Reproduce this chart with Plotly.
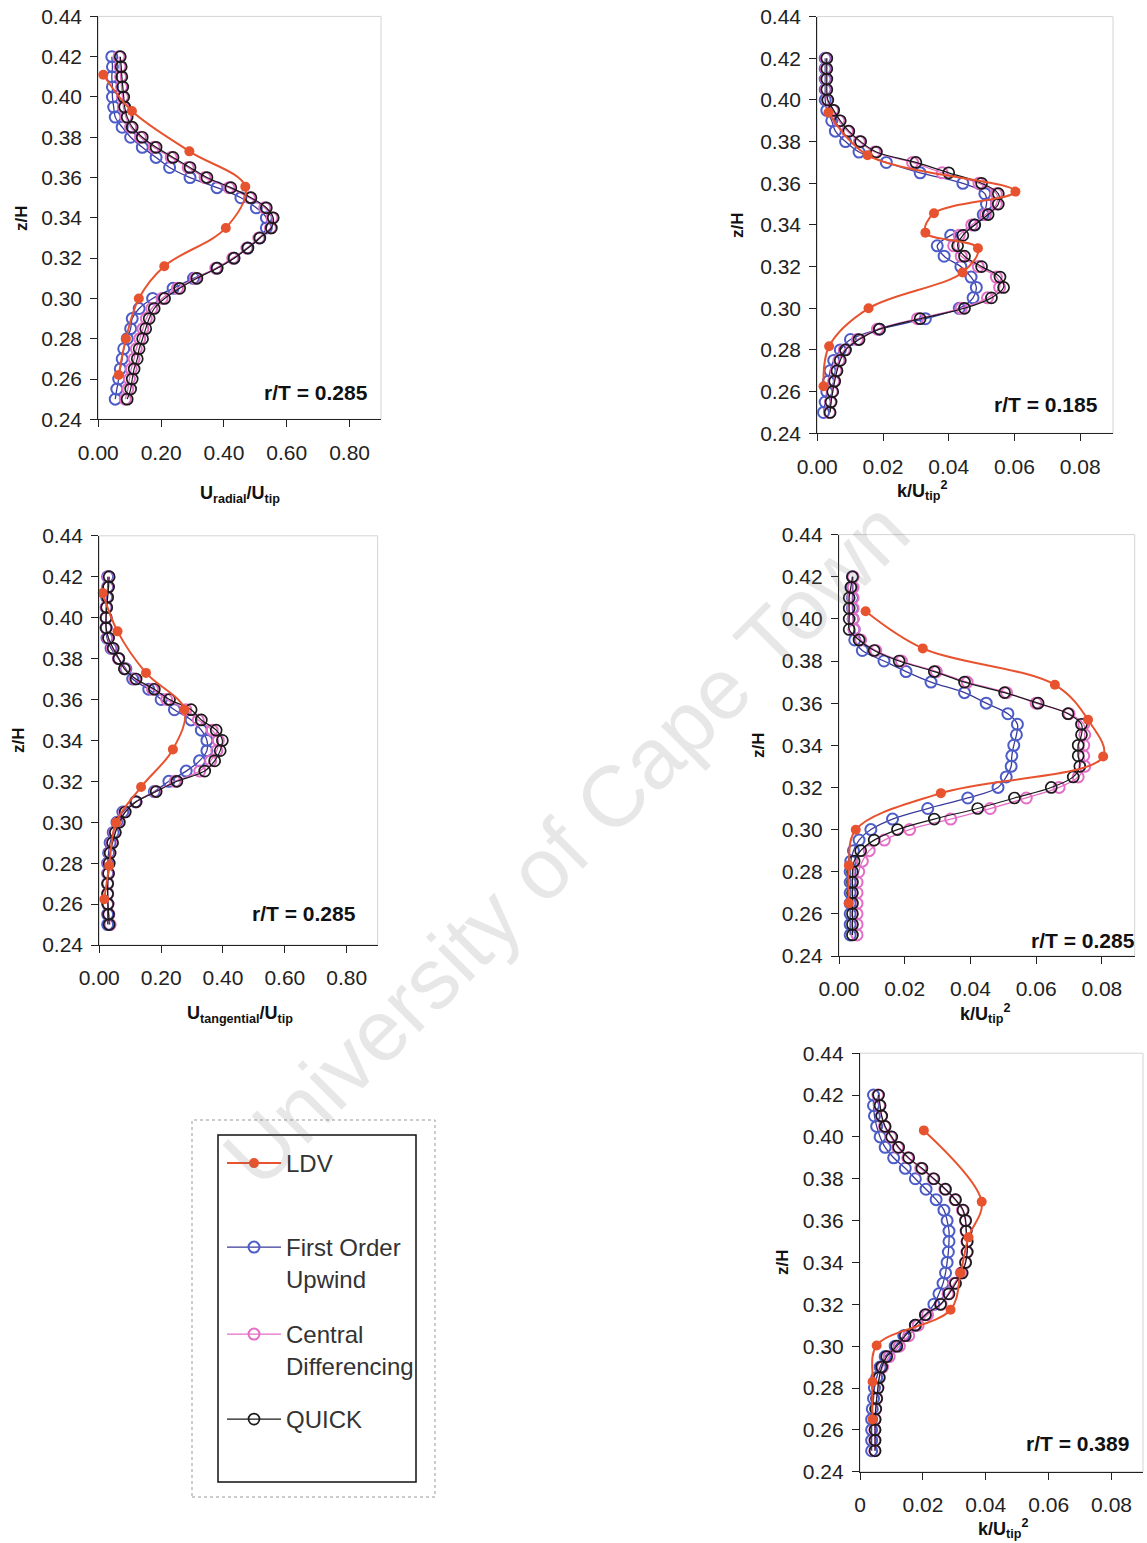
import plotly.graph_objects as go

W, H = 1147, 1543

# ---------------- data ----------------
Z_SIM = [0.420, 0.415, 0.410, 0.405, 0.400, 0.395, 0.390, 0.385, 0.380, 0.375,
         0.370, 0.365, 0.360, 0.355, 0.350, 0.345, 0.340, 0.335, 0.330, 0.325,
         0.320, 0.315, 0.310, 0.305, 0.300, 0.295, 0.290, 0.285, 0.280, 0.275,
         0.270, 0.265, 0.260, 0.255, 0.250]

# Panel 1: U_radial / U_tip, r/T = 0.285
R_FOU = [0.043, 0.045, 0.043, 0.045, 0.045, 0.049, 0.054, 0.076, 0.103, 0.140,
         0.184, 0.227, 0.292, 0.378, 0.454, 0.503, 0.535, 0.535, 0.514, 0.476,
         0.432, 0.378, 0.303, 0.238, 0.173, 0.130, 0.108, 0.103, 0.092, 0.081,
         0.076, 0.070, 0.065, 0.059, 0.054]
R_CD = [0.066, 0.069, 0.071, 0.074, 0.077, 0.080, 0.088, 0.103, 0.134, 0.178,
        0.232, 0.286, 0.340, 0.416, 0.481, 0.530, 0.553, 0.548, 0.511, 0.473,
        0.428, 0.374, 0.309, 0.252, 0.203, 0.170, 0.153, 0.142, 0.132, 0.121,
        0.114, 0.105, 0.099, 0.094, 0.086]
R_QUICK = [0.070, 0.073, 0.075, 0.078, 0.081, 0.084, 0.092, 0.108, 0.140, 0.184,
           0.238, 0.292, 0.346, 0.422, 0.486, 0.535, 0.557, 0.551, 0.514, 0.476,
           0.432, 0.378, 0.314, 0.259, 0.211, 0.178, 0.162, 0.151, 0.141, 0.130,
           0.124, 0.114, 0.108, 0.103, 0.092]
R_LDV_Z = [0.411, 0.393, 0.373, 0.3555, 0.335, 0.316, 0.300, 0.280, 0.262]
R_LDV = [0.016, 0.107, 0.290, 0.468, 0.406, 0.210, 0.129, 0.088, 0.065]

# Panel 2: k / U_tip^2, r/T = 0.185
K1_FOU = [0.0024, 0.0024, 0.0024, 0.0024, 0.0024, 0.0029, 0.0044, 0.0055, 0.0086, 0.0127,
          0.0210, 0.0313, 0.0443, 0.0510, 0.0515, 0.0505, 0.0479, 0.0406, 0.0365, 0.0386,
          0.0437, 0.0468, 0.0484, 0.0474, 0.0432, 0.0329, 0.0189, 0.0101, 0.0070, 0.0050,
          0.0039, 0.0034, 0.0029, 0.0024, 0.0019]
K1_CD = [0.0027, 0.0027, 0.0027, 0.0027, 0.0030, 0.0047, 0.0066, 0.0092, 0.0128, 0.0175,
         0.0290, 0.0380, 0.0492, 0.0545, 0.0545, 0.0512, 0.0470, 0.0432, 0.0415, 0.0438,
         0.0490, 0.0545, 0.0555, 0.0518, 0.0438, 0.0305, 0.0183, 0.0122, 0.0082, 0.0066,
         0.0057, 0.0050, 0.0045, 0.0040, 0.0037]
K1_QUICK = [0.0029, 0.0029, 0.0029, 0.0029, 0.0032, 0.0050, 0.0070, 0.0096, 0.0132, 0.0180,
            0.0300, 0.0400, 0.0500, 0.0551, 0.0551, 0.0520, 0.0479, 0.0443, 0.0427, 0.0448,
            0.0500, 0.0556, 0.0567, 0.0530, 0.0448, 0.0313, 0.0189, 0.0127, 0.0086, 0.0070,
            0.0060, 0.0053, 0.0047, 0.0042, 0.0039]
K1_LDV_Z = [0.394, 0.3735, 0.356, 0.3456, 0.3363, 0.3288, 0.3172, 0.300, 0.2818, 0.2626]
K1_LDV = [0.0034, 0.0153, 0.0603, 0.0355, 0.0329, 0.0489, 0.0442, 0.0156, 0.0036, 0.0019]

# Panel 3: U_tangential / U_tip, r/T = 0.285
T_FOU = [0.027, 0.027, 0.024, 0.022, 0.022, 0.022, 0.025, 0.038, 0.063, 0.086,
         0.108, 0.160, 0.200, 0.243, 0.297, 0.330, 0.348, 0.348, 0.324, 0.281,
         0.225, 0.178, 0.117, 0.076, 0.057, 0.045, 0.035, 0.030, 0.027, 0.027,
         0.027, 0.027, 0.027, 0.027, 0.027]
T_CD = [0.030, 0.029, 0.026, 0.023, 0.022, 0.022, 0.028, 0.042, 0.062, 0.083,
        0.115, 0.172, 0.218, 0.280, 0.320, 0.365, 0.385, 0.380, 0.360, 0.325,
        0.245, 0.182, 0.119, 0.082, 0.062, 0.050, 0.041, 0.034, 0.031, 0.029,
        0.027, 0.027, 0.028, 0.031, 0.035]
T_QUICK = [0.032, 0.030, 0.027, 0.024, 0.022, 0.022, 0.030, 0.045, 0.063, 0.081,
           0.119, 0.178, 0.227, 0.297, 0.330, 0.378, 0.398, 0.391, 0.373, 0.341,
           0.251, 0.184, 0.119, 0.084, 0.065, 0.052, 0.043, 0.035, 0.032, 0.030,
           0.027, 0.027, 0.028, 0.030, 0.032]
T_LDV_Z = [0.412, 0.3933, 0.373, 0.355, 0.3356, 0.3172, 0.2998, 0.2787, 0.2624]
T_LDV = [0.011, 0.059, 0.151, 0.276, 0.238, 0.135, 0.054, 0.032, 0.016]

# Panel 4: k / U_tip^2, r/T = 0.285
K2_FOU = [0.0041, 0.0041, 0.0041, 0.0041, 0.0043, 0.0046, 0.0048, 0.0071, 0.0137, 0.0204,
          0.0280, 0.0382, 0.0448, 0.0514, 0.0543, 0.0540, 0.0532, 0.0526, 0.0524, 0.0509,
          0.0484, 0.0392, 0.0270, 0.0163, 0.0097, 0.0061, 0.0044, 0.0036, 0.0034, 0.0034,
          0.0034, 0.0034, 0.0034, 0.0034, 0.0034]
K2_CD = [0.0043, 0.0043, 0.0043, 0.0043, 0.0043, 0.0046, 0.0066, 0.0112, 0.0190, 0.0296,
         0.0390, 0.0510, 0.0600, 0.0700, 0.0745, 0.0748, 0.0745, 0.0745, 0.0748, 0.0728,
         0.0670, 0.0570, 0.0460, 0.0340, 0.0215, 0.0138, 0.0092, 0.0071, 0.0060, 0.0055,
         0.0055, 0.0055, 0.0055, 0.0055, 0.0055]
K2_QUICK = [0.0041, 0.0036, 0.0031, 0.0031, 0.0031, 0.0031, 0.0061, 0.0107, 0.0183, 0.0290,
            0.0382, 0.0504, 0.0606, 0.0697, 0.0738, 0.0738, 0.0728, 0.0728, 0.0733, 0.0713,
            0.0646, 0.0534, 0.0422, 0.0290, 0.0178, 0.0107, 0.0066, 0.0046, 0.0041, 0.0041,
            0.0041, 0.0041, 0.0041, 0.0041, 0.0041]
K2_LDV_Z = [0.4036, 0.386, 0.3687, 0.3521, 0.3347, 0.3173, 0.2999, 0.283, 0.265]
K2_LDV = [0.0081, 0.0255, 0.0657, 0.0758, 0.0804, 0.0310, 0.0051, 0.0030, 0.0030]

# Panel 5: k / U_tip^2, r/T = 0.389
K3_FOU = [0.0043, 0.0043, 0.0046, 0.0053, 0.0064, 0.0080, 0.0107, 0.0144, 0.0176, 0.0210,
          0.0242, 0.0267, 0.0277, 0.0283, 0.0283, 0.0281, 0.0277, 0.0272, 0.0264, 0.0251,
          0.0235, 0.0208, 0.0176, 0.0139, 0.0112, 0.0080, 0.0064, 0.0053, 0.0046, 0.0043,
          0.0039, 0.0037, 0.0037, 0.0037, 0.0037]
K3_CD = [0.0057, 0.0062, 0.0068, 0.0078, 0.0098, 0.0120, 0.0152, 0.0193, 0.0232, 0.0270,
         0.0302, 0.0326, 0.0335, 0.0337, 0.0340, 0.0340, 0.0335, 0.0322, 0.0300, 0.0280,
         0.0258, 0.0215, 0.0185, 0.0155, 0.0125, 0.0093, 0.0072, 0.0062, 0.0057, 0.0053,
         0.0050, 0.0048, 0.0047, 0.0047, 0.0047]
K3_QUICK = [0.0059, 0.0064, 0.0069, 0.0080, 0.0101, 0.0123, 0.0155, 0.0197, 0.0235, 0.0272,
            0.0304, 0.0328, 0.0336, 0.0338, 0.0341, 0.0341, 0.0336, 0.0325, 0.0304, 0.0283,
            0.0256, 0.0208, 0.0176, 0.0144, 0.0117, 0.0085, 0.0069, 0.0061, 0.0057, 0.0053,
            0.0050, 0.0048, 0.0048, 0.0048, 0.0048]
K3_LDV_Z = [0.4031, 0.369, 0.352, 0.335, 0.3174, 0.3003, 0.283, 0.265]
K3_LDV = [0.0203, 0.0387, 0.0345, 0.0320, 0.0288, 0.0053, 0.0040, 0.0040]

Z_TICKS = [0.24, 0.26, 0.28, 0.30, 0.32, 0.34, 0.36, 0.38, 0.40, 0.42, 0.44]
U_TICKS = [0.0, 0.2, 0.4, 0.6, 0.8]
U_TICKTEXT = ["0.00", "0.20", "0.40", "0.60", "0.80"]
K_TICKS = [0.0, 0.02, 0.04, 0.06, 0.08]
K_TICKTEXT = ["0.00", "0.02", "0.04", "0.06", "0.08"]
K_TICKTEXT_5 = ["0", "0.02", "0.04", "0.06", "0.08"]

SERIES_NAMES = ["LDV", "First Order<br>Upwind", "Central<br>Differencing", "QUICK"]

# ---------------- styling ----------------
FONT = "Liberation Sans, Arial, sans-serif"
C_LDV = "#e8532f"
C_FOU_M = "#4c5cc8"
C_FOU_L = "#3a3a9a"
C_CD = "#e46ec6"
C_Q = "#1a1a1a"


def px(x):
    return x / W


def py(y):
    return 1 - y / H


panels = [
    dict(xdom=(98.3, 381.0), ydom=(16.4, 419.3), xr=[0, 0.9], tv=U_TICKS, tt=U_TICKTEXT,
         fou=R_FOU, cd=R_CD, q=R_QUICK, lz=R_LDV_Z, l=R_LDV,
         label="r/T = 0.285", lpos=(370, 393),
         xt="<b>U<sub>radial</sub>/U<sub>tip</sub></b>", xtpos=(240, 494), ztpos=(22, 218)),
    dict(xdom=(817.3, 1113.0), ydom=(16.6, 433.3), xr=[0, 0.09], tv=K_TICKS, tt=K_TICKTEXT,
         fou=K1_FOU, cd=K1_CD, q=K1_QUICK, lz=K1_LDV_Z, l=K1_LDV,
         label="r/T = 0.185", lpos=(1100, 404),
         xt="<b>k/U<sub>tip</sub><sup>2</sup></b>", xtpos=(922, 490), ztpos=(738, 225)),
    dict(xdom=(99.3, 377.6), ydom=(535.8, 945.0), xr=[0, 0.9], tv=U_TICKS, tt=U_TICKTEXT,
         fou=T_FOU, cd=T_CD, q=T_QUICK, lz=T_LDV_Z, l=T_LDV,
         label="r/T = 0.285", lpos=(358, 913),
         xt="<b>U<sub>tangential</sub>/U<sub>tip</sub></b>", xtpos=(240, 1014), ztpos=(18, 740)),
    dict(xdom=(839.0, 1134.7), ydom=(534.6, 956.0), xr=[0, 0.09], tv=K_TICKS, tt=K_TICKTEXT,
         fou=K2_FOU, cd=K2_CD, q=K2_QUICK, lz=K2_LDV_Z, l=K2_LDV,
         label="r/T = 0.285", lpos=(1137, 940),
         xt="<b>k/U<sub>tip</sub><sup>2</sup></b>", xtpos=(985, 1013), ztpos=(758, 745)),
    dict(xdom=(860.0, 1143.0), ydom=(1053.2, 1471.7), xr=[0, 0.09], tv=K_TICKS, tt=K_TICKTEXT_5,
         fou=K3_FOU, cd=K3_CD, q=K3_QUICK, lz=K3_LDV_Z, l=K3_LDV,
         label="r/T = 0.389", lpos=(1131, 1443),
         xt="<b>k/U<sub>tip</sub><sup>2</sup></b>", xtpos=(1003, 1528), ztpos=(782, 1262)),
]

fig = go.Figure()
annotations = []
shapes = []
layout_axes = {}

for i, p in enumerate(panels):
    n = "" if i == 0 else str(i + 1)
    xa, ya = "x" + n, "y" + n
    first = i == 0
    common = dict(xaxis=xa, yaxis=ya, y=Z_SIM, cliponaxis=False, line_shape="spline")
    fig.add_trace(go.Scatter(x=p["fou"], mode="lines+markers", name=SERIES_NAMES[1],
                             line=dict(color=C_FOU_L, width=1.3),
                             marker=dict(symbol="circle-open", size=11, color=C_FOU_M,
                                         line=dict(width=2, color=C_FOU_M)),
                             legend="legend2", showlegend=first, **common))
    fig.add_trace(go.Scatter(x=p["cd"], mode="lines+markers", name=SERIES_NAMES[2],
                             line=dict(color=C_CD, width=1.3),
                             marker=dict(symbol="circle-open", size=11, color=C_CD,
                                         line=dict(width=2, color=C_CD)),
                             legend="legend3", showlegend=first, **common))
    fig.add_trace(go.Scatter(x=p["q"], mode="lines+markers", name=SERIES_NAMES[3],
                             line=dict(color=C_Q, width=1.2),
                             marker=dict(symbol="circle-open", size=11, color=C_Q,
                                         line=dict(width=1.7, color=C_Q)),
                             legend="legend4", showlegend=first, **common))
    fig.add_trace(go.Scatter(x=p["l"], y=p["lz"], xaxis=xa, yaxis=ya, mode="lines+markers",
                             name=SERIES_NAMES[0], cliponaxis=False, line_shape="spline",
                             line=dict(color=C_LDV, width=2),
                             marker=dict(symbol="circle", size=10, color=C_LDV),
                             legend="legend", showlegend=first))

    axis_font = dict(family=FONT, size=21, color="#222")
    layout_axes["xaxis" + n] = dict(
        domain=[px(p["xdom"][0]), px(p["xdom"][1])], anchor=ya, range=p["xr"],
        tickvals=p["tv"], ticktext=p["tt"], ticks="outside", ticklen=7, tickwidth=1,
        tickcolor="#222", showline=True, linecolor="#222", linewidth=1.2,
        showgrid=False, zeroline=False, tickfont=axis_font, ticklabelstandoff=7,
        automargin=False)
    layout_axes["yaxis" + n] = dict(
        domain=[py(p["ydom"][1]), py(p["ydom"][0])], anchor=xa, range=[0.24, 0.44],
        tickvals=Z_TICKS, tickformat=".2f", ticks="outside", ticklen=7, tickwidth=1,
        tickcolor="#222", showline=True, linecolor="#222", linewidth=1.2,
        showgrid=False, zeroline=False, tickfont=axis_font, ticklabelstandoff=4,
        automargin=False)

    # faint plot frame
    shapes.append(dict(type="rect", xref=xa + " domain", yref=ya + " domain",
                       x0=0, x1=1, y0=0, y1=1, line=dict(color="#d4d4d4", width=1),
                       layer="below"))

    annotations.append(dict(text="<b>" + p["label"] + "</b>", xref="paper", yref="paper",
                            x=px(p["lpos"][0]), y=py(p["lpos"][1]), xanchor="right",
                            yanchor="middle", showarrow=False,
                            font=dict(family=FONT, size=21, color="#111")))
    annotations.append(dict(text=p["xt"], xref="paper", yref="paper",
                            x=px(p["xtpos"][0]), y=py(p["xtpos"][1]), xanchor="center",
                            yanchor="middle", showarrow=False,
                            font=dict(family=FONT, size=18, color="#111")))
    annotations.append(dict(text="<b>z/H</b>", xref="paper", yref="paper",
                            x=px(p["ztpos"][0]), y=py(p["ztpos"][1]), xanchor="center",
                            yanchor="middle", showarrow=False, textangle=-90,
                            font=dict(family=FONT, size=17, color="#111")))

# watermark
annotations.append(dict(text="University of Cape Town", xref="paper", yref="paper",
                        x=px(566), y=py(843), xanchor="center", yanchor="middle",
                        showarrow=False, textangle=-45,
                        font=dict(family=FONT, size=86, color="rgba(110,110,110,0.17)")))

# legend frames
shapes.append(dict(type="rect", xref="paper", yref="paper",
                   x0=px(218), x1=px(416), y0=py(1482), y1=py(1135),
                   line=dict(color="#111", width=1.5)))
shapes.append(dict(type="rect", xref="paper", yref="paper",
                   x0=px(192), x1=px(435), y0=py(1497), y1=py(1120),
                   line=dict(color="#999", width=1, dash="dot")))

leg_font = dict(family=FONT, size=24, color="#333")


def leg(ytop):
    return dict(x=px(222), y=py(ytop), xanchor="left", yanchor="top", font=leg_font,
                itemwidth=54, valign="top", bgcolor="rgba(0,0,0,0)", borderwidth=0,
                itemclick=False, itemdoubleclick=False)


fig.update_layout(
    width=W, height=H, margin=dict(l=0, r=0, t=0, b=0, autoexpand=False),
    paper_bgcolor="white", plot_bgcolor="white",
    font=dict(family=FONT, size=18, color="#222"),
    annotations=annotations, shapes=shapes,
    legend=leg(1141), legend2=leg(1225), legend3=leg(1312), legend4=leg(1397),
    **layout_axes,
)

fig.write_html("out.html")
